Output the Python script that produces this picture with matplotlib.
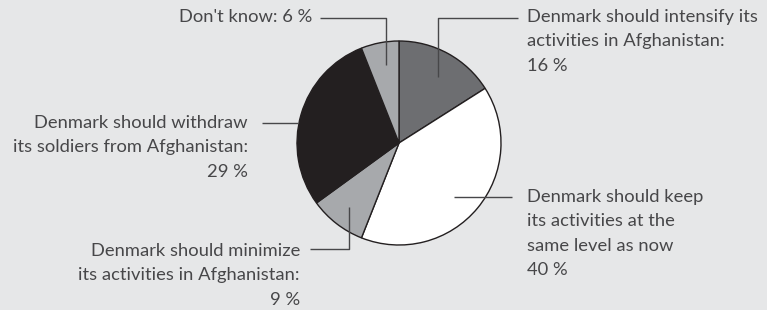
import matplotlib.pyplot as plt

labels = [
    "Denmark should intensify its\nactivities in Afghanistan:\n16 %",
    "Denmark should keep\nits activities at the\nsame level as now\n40 %",
    "Denmark should minimize\nits activities in Afghanistan:\n9 %",
    "Denmark should withdraw\nits soldiers from Afghanistan:\n29 %",
    "Don't know: 6 %",
]
shares = [16, 40, 9, 29, 6]
colors = ["#6d6e71", "#ffffff", "#a7a9ac", "#231f20", "#a7a9ac"]

BG = "#e6e7e8"
INK = "#474749"
H = 310

plt.rcParams["font.family"] = ["Lato", "DejaVu Sans"]

fig = plt.figure(figsize=(7.67, 3.10), dpi=100, facecolor=BG)
ax = fig.add_axes([0, 0, 1, 1])
ax.set_facecolor(BG)
ax.axis("off")

cx, cy, r = 399, H - 143, 102
ax.pie(shares, colors=colors, startangle=90, counterclock=False,
       center=(cx, cy), radius=r,
       wedgeprops=dict(edgecolor="#231f20", linewidth=1.0))
ax.set_xlim(0, 767)
ax.set_ylim(0, H)
ax.set_aspect("equal")


def leader(xs, ys):
    ax.plot(xs, [H - y for y in ys], color=INK, lw=1.0, solid_capstyle="butt")


def label(x, y, s, ha):
    ax.text(x, H - y, s, ha=ha, va="top", fontsize=13.2, color=INK,
            fontweight="normal", linespacing=1.64)


# intensify
leader([438, 438, 518], [77, 18, 18])
label(527, 9, labels[0], "left")
# keep
leader([454, 512], [197, 197])
label(527, 189, labels[1], "left")
# minimize
leader([349, 349, 310], [207, 249, 249])
label(300, 243, labels[2], "right")
# withdraw
leader([262, 298], [123, 123])
label(248, 115, labels[3], "right")
# don't know
leader([320, 386, 386], [18, 18, 65])
label(312, 9, labels[4], "right")

fig.savefig("out.png", dpi=100, facecolor=BG)
